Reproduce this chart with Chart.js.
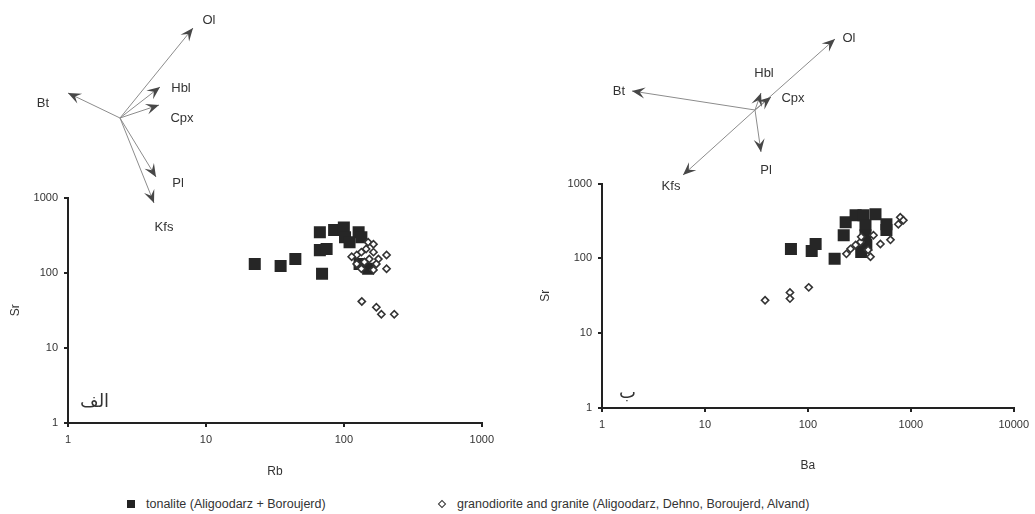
<!DOCTYPE html>
<html>
<head>
<meta charset="utf-8">
<script src="https://cdn.jsdelivr.net/npm/chart.js@4.4.1/dist/chart.umd.min.js"></script>
<style>
  html, body { margin: 0; padding: 0; background: #fff; }
  #root { position: relative; width: 1035px; height: 514px; overflow: hidden; font-family: "Liberation Sans", Arial, sans-serif; }
  .box { position: absolute; }
  .ar { position: absolute; font-family: "DejaVu Sans", sans-serif; font-size: 18px; color: #333; direction: rtl; }
  .leg { position: absolute; top: 497px; font-size: 12.5px; color: #333; white-space: nowrap; }
  .sq { display: inline-block; width: 8px; height: 8px; background: #222; margin-right: 11px; vertical-align: -0px; }
  .dm { display: inline-block; width: 4px; height: 4px; border: 1.5px solid #333; background: #fff; transform: rotate(45deg); margin-right: 12px; vertical-align: 1px; }
</style>
</head>
<body>
<div id="root">
  <div class="box" style="left:0px; top:185px; width:500px; height:300px;"><canvas id="cA"></canvas></div>
  <div class="box" style="left:535px; top:171px; width:500px; height:310px;"><canvas id="cB"></canvas></div>
  <div class="box" style="left:0px; top:-2px; width:300px; height:240px;"><canvas id="vA"></canvas></div>
  <div class="box" style="left:575px; top:-10px; width:300px; height:240px;"><canvas id="vB"></canvas></div>
  <div class="ar" style="left:80px; top:390px;">الف</div>
  <div class="ar" style="left:619px; top:381px;">ب</div>
  <div class="leg" style="left:127px;"><span class="sq"></span>tonalite (Aligoodarz + Boroujerd)</div>
  <div class="leg" style="left:439px;"><span class="dm"></span>granodiorite and granite (Aligoodarz, Dehno, Boroujerd, Alvand)</div>
</div>
<script>
// ---------- data: panel A (Rb vs Sr) ----------
const tonaliteRb = [22.6, 34.8, 44.5, 67, 67, 75, 69.5, 85, 100, 102, 128, 134, 110, 130, 150];
const tonaliteSrA = [131, 123, 152, 347, 200, 207, 97, 370, 400, 297, 347, 297, 255, 131, 113];
const graniteRb = [150, 164, 145, 134, 124, 114, 164, 178, 204, 153, 141, 172, 124, 204, 134, 164, 135, 172, 187, 232];
const graniteSrA = [255, 240, 207, 188, 172, 163, 188, 152, 172, 152, 139, 131, 131, 113, 113, 109, 41.5, 34.7, 28, 28];

// ---------- data: panel B (Ba vs Sr) ----------
const tonaliteBa = [68.5, 109, 119, 182, 233, 223, 291, 347, 454, 363, 363, 370, 330, 580, 580];
const tonaliteSrB = [134, 126, 156, 99, 304, 204, 377, 377, 388, 277, 204, 151, 122, 286, 239];
const graniteBa = [38.4, 67, 67, 102, 790, 847, 757, 434, 507, 635, 325, 291, 260, 237, 406, 330, 385];
const graniteSrB = [27.5, 35, 29, 41, 354, 323, 286, 204, 156, 177, 166, 151, 134, 115, 105, 194, 130];

// ---------- tick labels ----------
const ticksRb = [1, 10, 100, 1000];
const ticksBa = [1, 10, 100, 1000, 10000];
const ticksSr = [1, 10, 100, 1000];

// ---------- vector diagrams (mineral vectors, arbitrary units) ----------
const vecNamesA = ["Ol", "Hbl", "Cpx", "Bt", "Pl", "Kfs"];
const vecDxA = [3.65, 2.0, 1.95, -2.6, 1.8, 1.7];
const vecDyA = [4.5, 1.55, 0.65, 1.25, -2.95, -4.25];
const vecNamesB = ["Ol", "Hbl", "Cpx", "Bt", "Pl", "Kfs"];
const vecDxB = [4.0, 0.3, 0.8, -6.15, 0.3, -3.6];
const vecDyB = [3.55, 0.85, 0.65, 0.95, -2.1, -3.25];

// label offsets (px) relative to arrow tips — style, not data
const labelOffA = { Ol: [16, -8], Hbl: [21, 1], Cpx: [23, 13], Bt: [-25, 10], Pl: [22, 6], Kfs: [10, 24] };
const labelOffB = { Ol: [14, -1], Hbl: [3, -20], Cpx: [22, 1], Bt: [-13, 0], Pl: [5, 18], Kfs: [-12, 11] };

const FONT = "'Liberation Sans', Arial, sans-serif";
const toXY = (xs, ys) => xs.map((x, i) => ({ x: x, y: ys[i] }));

function logAxis(tickVals, title, axis, opts) {
  return {
    type: 'logarithmic',
    min: tickVals[0],
    max: tickVals[tickVals.length - 1],
    afterBuildTicks: s => { s.ticks = tickVals.map(v => ({ value: v, major: true })); },
    afterFit: s => { if (axis === 'x') s.height = opts.size; else s.width = opts.size; },
    border: { display: true, color: '#222', width: 2 },
    grid: { drawOnChartArea: false, drawTicks: true, tickLength: 4, color: '#222', lineWidth: 2 },
    ticks: {
      autoSkip: false, maxRotation: 0, padding: opts.tickPad,
      color: '#333', font: { family: FONT, size: 11 },
      callback: v => String(v)
    },
    title: {
      display: true, text: title, color: '#333',
      font: { family: FONT, size: 12 },
      padding: opts.titlePad
    }
  };
}

function scatterChart(id, xs1, ys1, xs2, ys2, xTicks, xTitle, pad, xAxisH, yAxisW, xTitlePad, yTitlePad) {
  return new Chart(document.getElementById(id), {
    type: 'scatter',
    data: {
      datasets: [
        {
          label: 'granodiorite and granite (Aligoodarz, Dehno, Boroujerd, Alvand)',
          data: toXY(xs2, ys2),
          pointStyle: 'rectRot', pointRadius: 3.6, pointHoverRadius: 3.6,
          backgroundColor: '#ffffff', borderColor: '#333', borderWidth: 1.6
        },
        {
          label: 'tonalite (Aligoodarz + Boroujerd)',
          data: toXY(xs1, ys1),
          pointStyle: 'rect', pointRadius: 8.5, pointHoverRadius: 8.5,
          backgroundColor: '#262626', borderColor: '#262626', borderWidth: 0
        }
      ]
    },
    options: {
      responsive: true, maintainAspectRatio: false, animation: false,
      layout: { padding: pad },
      plugins: { legend: { display: false }, tooltip: { enabled: false } },
      scales: {
        x: logAxis(xTicks, xTitle, 'x', { size: xAxisH, tickPad: 6, titlePad: xTitlePad }),
        y: logAxis(ticksSr, 'Sr', 'y', { size: yAxisW, tickPad: 6, titlePad: yTitlePad })
      }
    }
  });
}

scatterChart('cA', tonaliteRb, tonaliteSrA, graniteRb, graniteSrA, ticksRb, 'Rb',
  { left: 0, right: 14, top: 10, bottom: 0 }, 62, 68, { top: 10, bottom: 6 }, { top: 8, bottom: 4 });
scatterChart('cB', tonaliteBa, tonaliteSrB, graniteBa, graniteSrB, ticksBa, 'Ba',
  { left: 0, right: 19, top: 10, bottom: 0 }, 73, 67, { top: 12, bottom: 8 }, { top: 3, bottom: 4 });

// ---------- vector diagram charts ----------
const arrowPlugin = {
  id: 'arrows',
  afterDatasetsDraw(chart, args, opts) {
    const ctx = chart.ctx;
    chart.data.datasets.forEach((ds, i) => {
      const meta = chart.getDatasetMeta(i);
      const p0 = meta.data[0], p1 = meta.data[1];
      const ang = Math.atan2(p1.y - p0.y, p1.x - p0.x);
      const L = 13, W = 5.5;
      ctx.save();
      ctx.fillStyle = '#474747';
      ctx.beginPath();
      ctx.moveTo(p1.x, p1.y);
      ctx.lineTo(p1.x - L * Math.cos(ang) + W * Math.sin(ang), p1.y - L * Math.sin(ang) - W * Math.cos(ang));
      ctx.lineTo(p1.x - 0.6 * L * Math.cos(ang), p1.y - 0.6 * L * Math.sin(ang));
      ctx.lineTo(p1.x - L * Math.cos(ang) - W * Math.sin(ang), p1.y - L * Math.sin(ang) + W * Math.cos(ang));
      ctx.closePath();
      ctx.fill();
      const off = opts.offsets[ds.label] || [0, 0];
      ctx.fillStyle = '#333';
      ctx.font = "13px " + FONT;
      ctx.textAlign = 'center';
      ctx.textBaseline = 'middle';
      ctx.fillText(ds.label, p1.x + off[0], p1.y + off[1]);
      ctx.restore();
    });
  }
};

function vectorChart(id, names, dxs, dys, xmin, xmax, offsets) {
  return new Chart(document.getElementById(id), {
    type: 'scatter',
    data: {
      datasets: names.map((n, i) => ({
        label: n,
        data: [{ x: 0, y: 0 }, { x: dxs[i], y: dys[i] }],
        showLine: true, borderColor: '#8c8c8c', borderWidth: 1,
        pointRadius: 0, pointHoverRadius: 0
      }))
    },
    options: {
      responsive: true, maintainAspectRatio: false, animation: false,
      layout: { padding: 0 },
      plugins: { legend: { display: false }, tooltip: { enabled: false }, arrows: { offsets: offsets } },
      scales: {
        x: { type: 'linear', min: xmin, max: xmax, display: false },
        y: { type: 'linear', min: -6, max: 6, display: false }
      }
    },
    plugins: [arrowPlugin]
  });
}

vectorChart('vA', vecNamesA, vecDxA, vecDyA, -6, 9, labelOffA);
vectorChart('vB', vecNamesB, vecDxB, vecDyB, -9, 6, labelOffB);
</script>
</body>
</html>
